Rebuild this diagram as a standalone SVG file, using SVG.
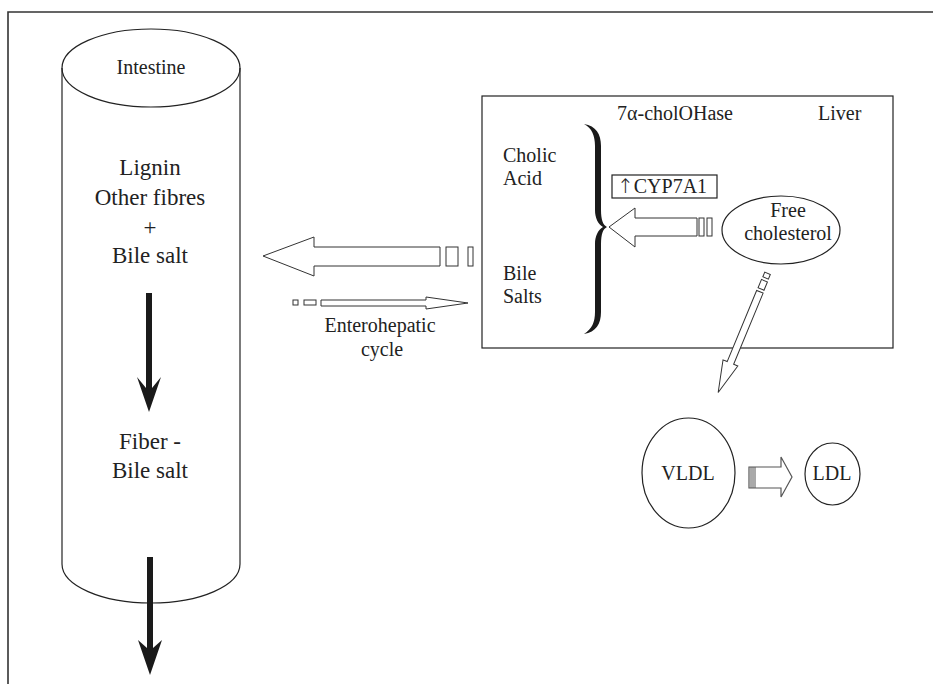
<svg xmlns="http://www.w3.org/2000/svg" width="933" height="684" viewBox="0 0 933 684">
<style>
text{font-family:'Liberation Serif','DejaVu Serif',serif;fill:#222;}
.t20{font-size:20px;}
.t23{font-size:23px;}
.arw{font-family:'DejaVu Sans','Liberation Sans',sans-serif;font-weight:200;}
.ln{fill:none;stroke:#222;stroke-width:1.2;}
.hol{fill:#fff;stroke:#333;stroke-width:1;}
.blk{fill:#1a1a1a;stroke:none;}
</style>
<rect width="933" height="684" fill="#fff"/>
<g id="frame">
<path d="M8,684 V12 H933" fill="none" stroke="#333" stroke-width="1.6"/>
</g>
<g id="intestine">
<line class="ln" x1="62" y1="68" x2="62" y2="564"/>
<line class="ln" x1="240" y1="68" x2="240" y2="564"/>
<ellipse class="ln" cx="151" cy="68" rx="89" ry="39"/>
<path class="ln" d="M62,564 A89,39 0 0 0 240,564"/>
<text class="t20" x="151" y="74" text-anchor="middle">Intestine</text>
<text class="t23" x="150" y="175" text-anchor="middle">Lignin</text>
<text class="t23" x="150" y="205" text-anchor="middle">Other fibres</text>
<text class="t23" x="150" y="235" text-anchor="middle">+</text>
<text class="t23" x="150" y="263" text-anchor="middle">Bile salt</text>
<text class="t23" x="150" y="449" text-anchor="middle">Fiber -</text>
<text class="t23" x="150" y="478" text-anchor="middle">Bile salt</text>
</g>
<g id="liver">
<rect class="ln" x="482" y="96" width="411" height="252"/>
<text class="t20" x="617" y="120">7α-cholOHase</text>
<text class="t20" x="818" y="120">Liver</text>
<text class="t20" x="503" y="162">Cholic</text>
<text class="t20" x="503" y="185">Acid</text>
<text class="t20" x="503" y="280">Bile</text>
<text class="t20" x="503" y="303">Salts</text>
<path class="blk" d="M584,124 C596,126 601,134 601,146 L601,210 C601,220 603,225 607,227 C603,229 601,234 601,244 L601,312 C601,324 596,332 584,334 C592,329 595,322 595,312 L595,244 C595,236 598,230 603,227 C598,224 595,218 595,210 L595,146 C595,136 592,128 584,124 Z"/>
</g>
<g id="cyp7a1">
<rect class="ln" x="612" y="175" width="105" height="23"/>
<text class="t20" x="617" y="193"><tspan class="arw">↑</tspan>CYP7A1</text>
</g>
<g id="free-cholesterol">
<ellipse class="ln" cx="781" cy="230" rx="59" ry="34"/>
<text class="t20" x="788" y="217" text-anchor="middle">Free</text>
<text class="t20" x="788" y="240" text-anchor="middle">cholesterol</text>
</g>
<g id="vldl">
<ellipse class="ln" cx="688.5" cy="473" rx="46.5" ry="55"/>
<text class="t20" x="688" y="480" text-anchor="middle">VLDL</text>
</g>
<g id="ldl">
<ellipse class="ln" cx="832.5" cy="474" rx="27.5" ry="31"/>
<text class="t20" x="832" y="480" text-anchor="middle">LDL</text>
</g>
<g id="connectors">
<path class="blk" d="M146,293 H152 V388 L161,377 L149,412 L137,377 L146,388 Z"/>
<path class="blk" d="M147,557 H153 V648 L162,640 L150,675 L138,640 L147,648 Z"/>
<path class="hol" d="M440,247 H314 V237 L263,256 L314,276 V266 H440 Z"/>
<rect class="hol" x="446" y="247" width="12" height="19"/>
<rect class="hol" x="468" y="247" width="5" height="19"/>
<rect class="hol" x="293" y="300" width="5" height="5"/>
<rect class="hol" x="304" y="300" width="12" height="5"/>
<path class="hol" d="M321,300 H426 V297 L468,303 L426,309 V306 H321 Z"/>
<text class="t20" x="380" y="332" text-anchor="middle">Enterohepatic</text>
<text class="t20" x="382" y="356" text-anchor="middle">cycle</text>
<path class="hol" d="M697,218 H635 V208 L609,227 L635,247 V236 H697 Z"/>
<rect class="hol" x="699" y="218" width="5" height="18"/>
<rect class="hol" x="707" y="218" width="5" height="18"/>
<g transform="translate(766,277) rotate(112.5)">
<rect class="hol" x="-4" y="-3" width="5" height="6"/>
<rect class="hol" x="4" y="-3.2" width="9" height="6.4"/>
<path class="hol" d="M16,-3.5 H93 V-8 L125,0 L93,8 V3.5 H16 Z"/>
</g>
<path d="M749,467 H781 V457 L792,477 L781,497 V488 H749 Z" fill="#fff" stroke="#555" stroke-width="1.2"/>
<path d="M751,467 V488 M753,467 V488 M755,467 V488" stroke="#555" stroke-width="1"/>
</g>
</svg>
